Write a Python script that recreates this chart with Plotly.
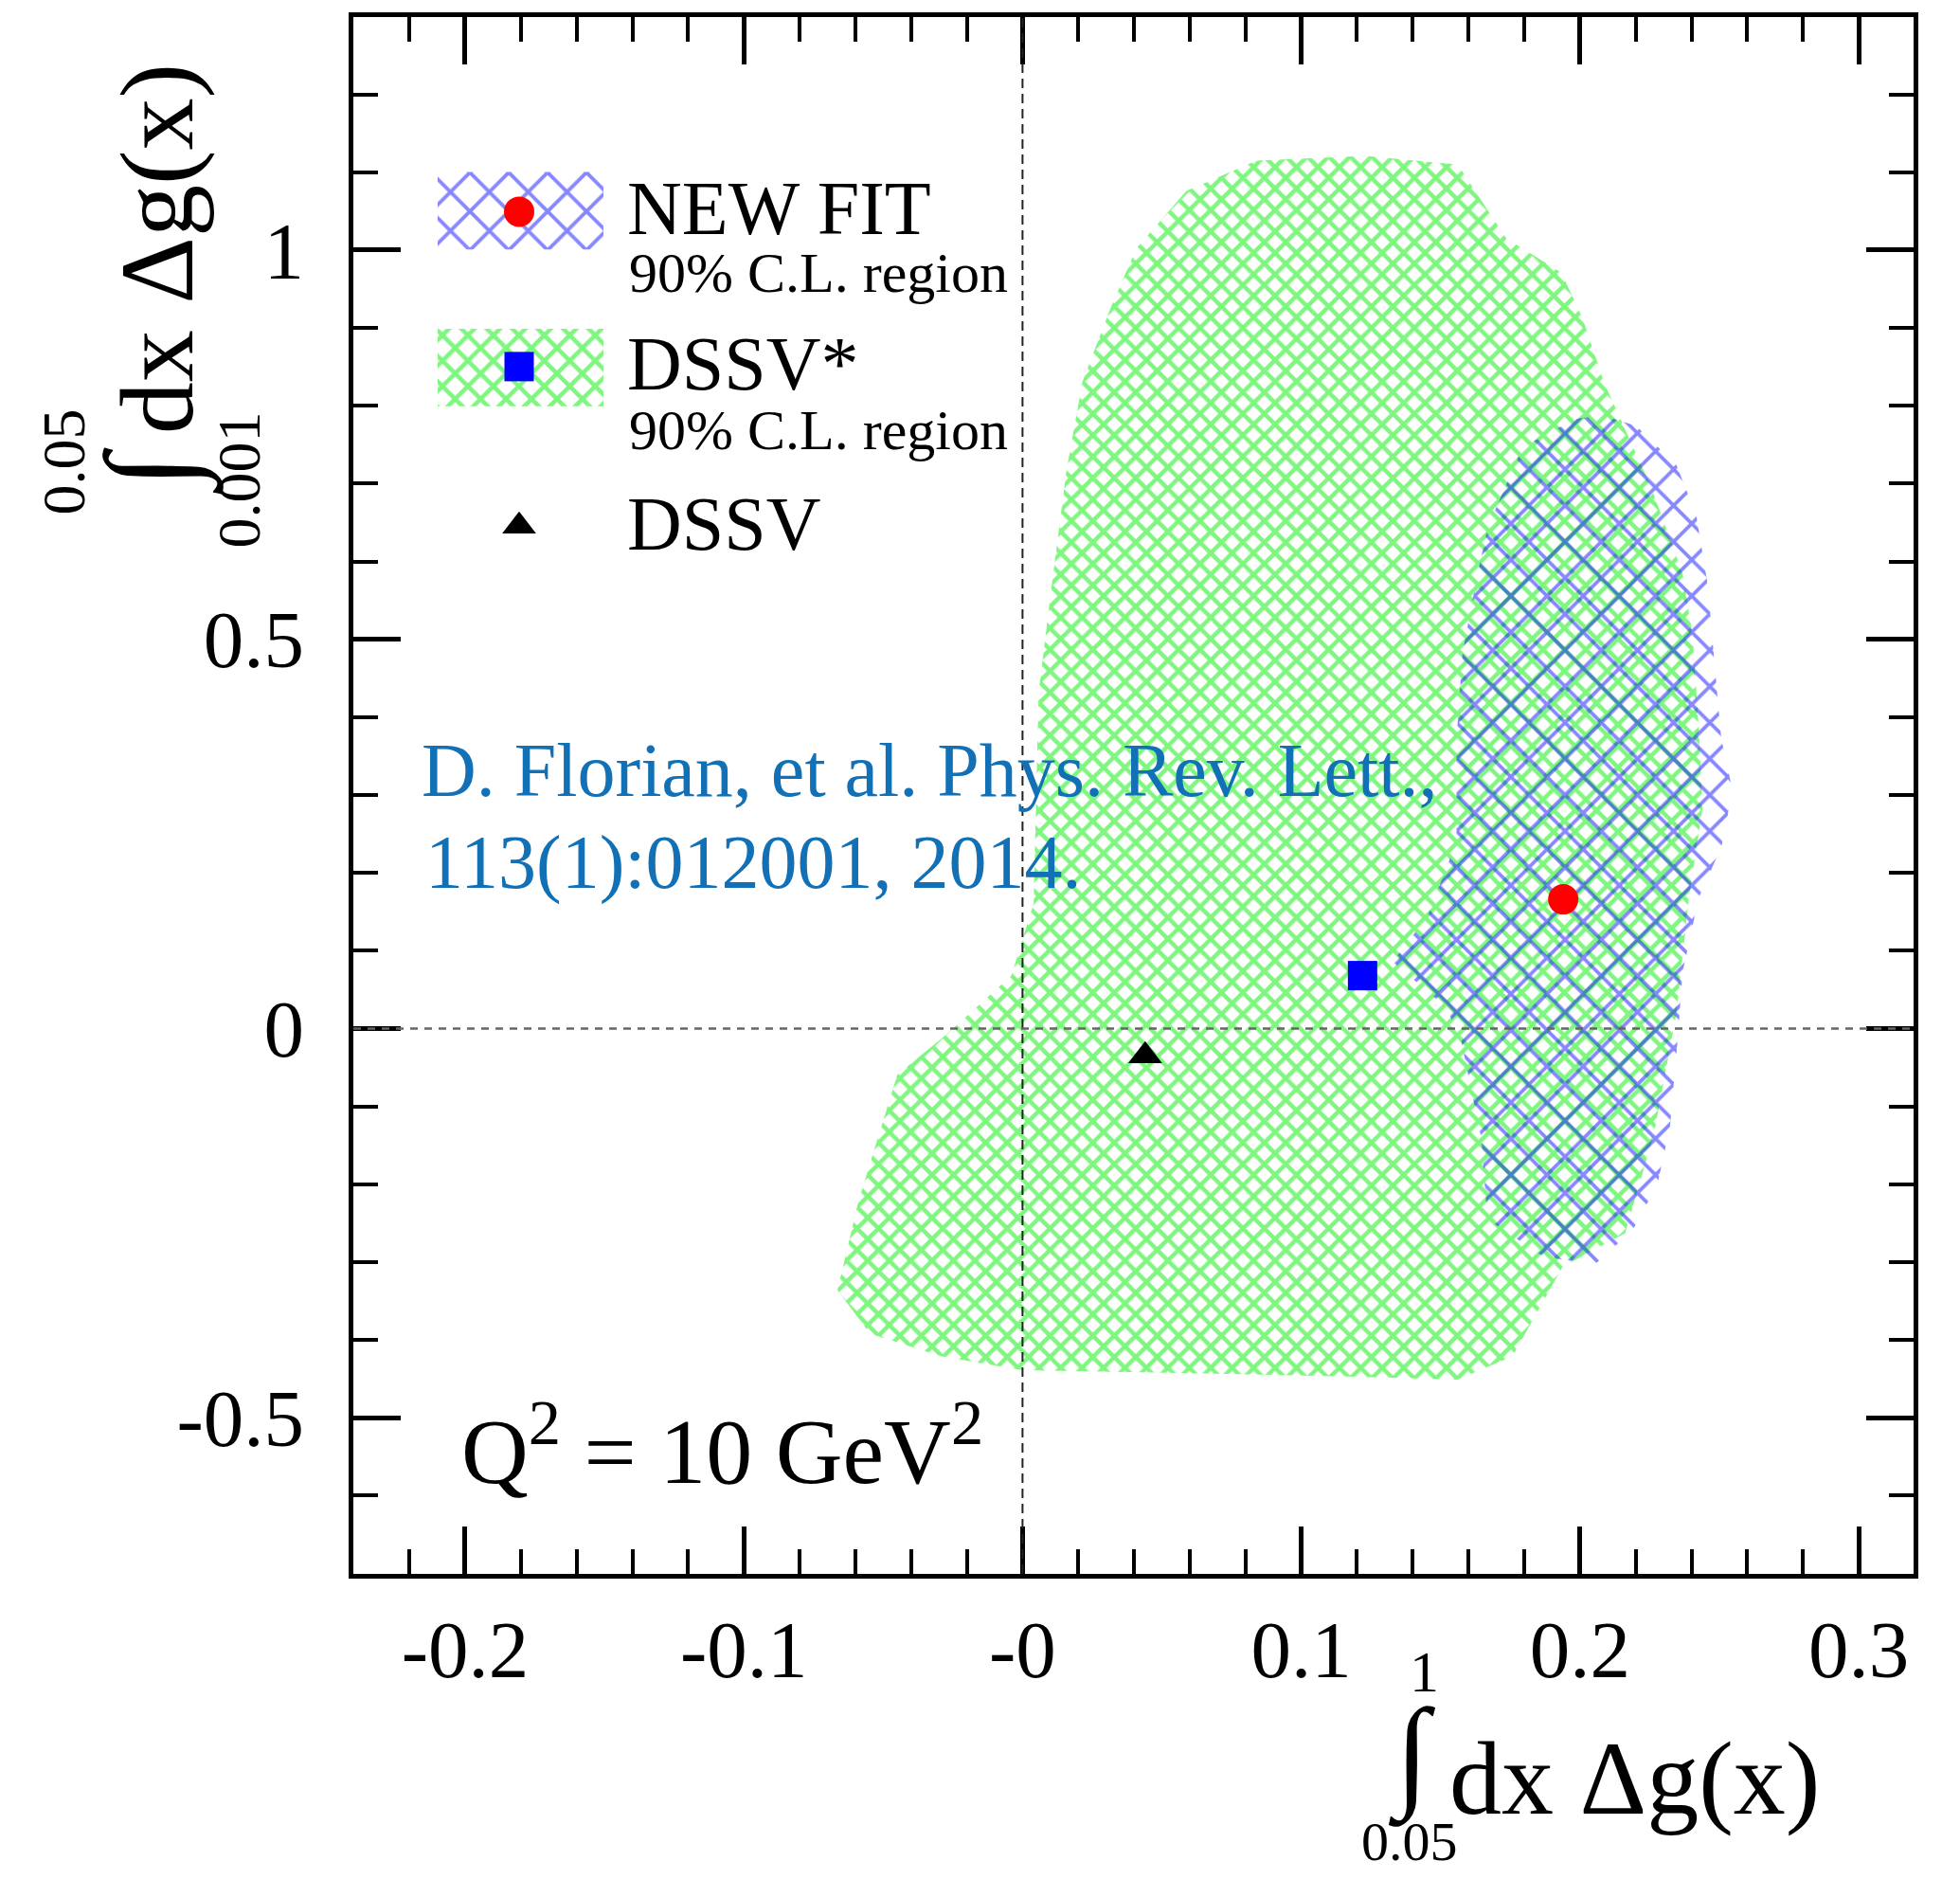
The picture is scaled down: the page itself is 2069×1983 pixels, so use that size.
import numpy as np
import plotly.graph_objects as go

# ---------------- data ----------------
# DSSV* 90% C.L. region outline
dssv_star_region_x = [0.1229, 0.1561, 0.1736, 0.1933, 0.2009, 0.2086, 0.2256, 0.2368, 0.2404,
                      0.2426, 0.2440, 0.2391, 0.2346, 0.2265, 0.2162, 0.1938, 0.1758, 0.1561,
                      0.1171, 0.0781, 0.0000, -0.0292, -0.0547, -0.0664, -0.0588, -0.0449,
                      -0.0274, -0.0040, 0.0040, 0.0058, 0.0099, 0.0157, 0.0215, 0.0314, 0.0408,
                      0.0588, 0.0839]
dssv_star_region_y = [1.121, 1.110, 1.015, 0.971, 0.913, 0.830, 0.695, 0.585, 0.505,
                      0.387, 0.284, 0.168, 0.020, -0.136, -0.263, -0.306, -0.421, -0.451,
                      -0.447, -0.444, -0.439, -0.421, -0.392, -0.336, -0.221, -0.059,
                      -0.008, 0.068, 0.161, 0.432, 0.553, 0.715, 0.831, 0.924, 1.002,
                      1.076, 1.115]

# NEW FIT 90% C.L. region outline
new_fit_region_x = [0.1982, 0.2077, 0.2202, 0.2346, 0.2417, 0.2458, 0.2485, 0.2507, 0.2543,
                    0.2529, 0.2507, 0.2426, 0.2368, 0.2350, 0.2323, 0.2278, 0.2189, 0.2054,
                    0.1870, 0.1668, 0.1646, 0.1574, 0.1520, 0.1328, 0.1453, 0.1557, 0.1557,
                    0.1579, 0.1633, 0.1669, 0.1794]
new_fit_region_y = [0.783, 0.788, 0.774, 0.724, 0.660, 0.571, 0.460, 0.372, 0.313,
                    0.270, 0.233, 0.168, 0.072, -0.016, -0.126, -0.200, -0.259, -0.303,
                    -0.293, -0.245, -0.141, -0.016, 0.027, 0.086, 0.144, 0.240, 0.372,
                    0.483, 0.585, 0.644, 0.747]

# best-fit points
new_fit_x, new_fit_y = [0.194], [0.166]
dssv_star_x, dssv_star_y = [0.122], [0.068]
dssv_x, dssv_y = [0.044], [-0.035]

x_tickvals = [-0.2, -0.1, 0.0, 0.1, 0.2, 0.3]
x_ticktext = ["-0.2", "-0.1", "-0", "0.1", "0.2", "0.3"]
y_tickvals = [-0.5, 0.0, 0.5, 1.0]
y_ticktext = ["-0.5", "0", "0.5", "1"]

# ---------------- layout geometry ----------------
W, H = 2069, 1983
BODY = 8                      # default browser body margin
L, R, T, B = 373, 2020, 13, 1661   # plot-area edges in page pixels
FW, FH = W - 2 * BODY, H - 2 * BODY
FONT = "Liberation Serif"
GREEN = "#00ee00"
BLUE = "#1010ff"


def fx(px):
    return (px - L) / (R - L)


def fy(py):
    return (B - py) / (B - T)


fig = go.Figure()

# regions
fig.add_trace(go.Scatter(
    x=dssv_star_region_x + dssv_star_region_x[:1], y=dssv_star_region_y + dssv_star_region_y[:1],
    mode="lines", fill="toself", line=dict(width=0), fillcolor="rgba(0,0,0,0)",
    fillpattern=dict(shape="x", fgcolor=GREEN, bgcolor="rgba(0,0,0,0)", size=16, solidity=0.48),
    showlegend=False, hoverinfo="skip"))
fig.add_trace(go.Scatter(
    x=new_fit_region_x + new_fit_region_x[:1], y=new_fit_region_y + new_fit_region_y[:1],
    mode="lines", fill="toself", line=dict(width=0), fillcolor="rgba(0,0,0,0)",
    fillpattern=dict(shape="x", fgcolor=BLUE, bgcolor="rgba(0,0,0,0)", size=27, solidity=0.26),
    showlegend=False, hoverinfo="skip"))

# points
fig.add_trace(go.Scatter(x=new_fit_x, y=new_fit_y, mode="markers",
                         marker=dict(symbol="circle", size=32, color="#ff0000", line=dict(width=0)),
                         showlegend=False))
fig.add_trace(go.Scatter(x=dssv_star_x, y=dssv_star_y, mode="markers",
                         marker=dict(symbol="square", size=31, color="#0000ff", line=dict(width=0)),
                         showlegend=False))
fig.add_trace(go.Scatter(x=dssv_x, y=dssv_y, mode="markers",
                         marker=dict(symbol="triangle-up", size=31, color="#000000", line=dict(width=0)),
                         showlegend=False))

# ---------------- legend (overlay axes in pixel units) ----------------
def rect(x0, x1, y0, y1):
    return [x0, x1, x1, x0, x0], [y0, y0, y1, y1, y0]


bx, by = rect(462, 637, 177, 259)
gx, gy = rect(462, 637, 343, 425)
fig.add_trace(go.Scatter(x=bx, y=by, xaxis="x2", yaxis="y2", mode="lines", fill="toself",
                         line=dict(width=0), fillcolor="rgba(0,0,0,0)",
                         fillpattern=dict(shape="x", fgcolor=BLUE, bgcolor="rgba(0,0,0,0)", size=29, solidity=0.25),
                         showlegend=False, hoverinfo="skip"))
fig.add_trace(go.Scatter(x=gx, y=gy, xaxis="x2", yaxis="y2", mode="lines", fill="toself",
                         line=dict(width=0), fillcolor="rgba(0,0,0,0)",
                         fillpattern=dict(shape="x", fgcolor=GREEN, bgcolor="rgba(0,0,0,0)", size=19, solidity=0.42),
                         showlegend=False, hoverinfo="skip"))
fig.add_trace(go.Scatter(x=[548], y=[219], xaxis="x2", yaxis="y2", mode="markers",
                         marker=dict(symbol="circle", size=32, color="#ff0000"), showlegend=False))
fig.add_trace(go.Scatter(x=[548], y=[383], xaxis="x2", yaxis="y2", mode="markers",
                         marker=dict(symbol="square", size=31, color="#0000ff"), showlegend=False))
fig.add_trace(go.Scatter(x=[548], y=[552], xaxis="x2", yaxis="y2", mode="markers",
                         marker=dict(symbol="triangle-up", size=31, color="#000000"), showlegend=False))

# ---------------- annotations ----------------
ann = []


def text(s, px, py, size, xanchor="left", yanchor="middle", color="black", angle=0):
    ann.append(dict(text=s, x=fx(px), y=fy(py), xref="paper", yref="paper",
                    xanchor=xanchor, yanchor=yanchor, showarrow=False, textangle=angle,
                    font=dict(family=FONT, size=size, color=color)))


# legend texts
text("NEW FIT", 660, 216, 80)
text("90% C.L. region", 662, 284, 60)
text("DSSV*", 660, 380, 80)
text("90% C.L. region", 662, 450, 60)
text("DSSV", 660, 550, 80)

# citation
CITE = "#1170b6"
text("D. Florian, et al. Phys. Rev. Lett.,", 443, 810, 80, color=CITE)
text("113(1):012001, 2014.", 447, 908, 80, color=CITE)

# Q^2 label
text("Q<sup>2</sup> = 10 GeV<sup>2</sup>", 485, 1524, 98)

# x-axis title
text("dx Δg(x)", 1528, 1878, 110)
text("∫", 1490, 1853, 130, xanchor="center")
text("1", 1503, 1764, 62, xanchor="center")
text("0.05", 1488, 1944, 58, xanchor="center")

# y-axis title (rotated)
text("dx Δg(x)", 166, 258, 110, xanchor="center", angle=-90)
text("∫", 161, 494, 130, xanchor="center", angle=-90)
text("0.05", 68, 484, 64, xanchor="center", angle=-90)
text("0.001", 253, 503, 64, xanchor="center", angle=-90)

# ---------------- zero lines ----------------
shapes = [
    dict(type="line", xref="x", yref="paper", x0=0, x1=0, y0=0, y1=1,
         line=dict(color="#222222", width=2, dash="10px,6px"), layer="above"),
    dict(type="line", xref="paper", yref="y", x0=0, x1=1, y0=0, y1=0,
         line=dict(color="#666666", width=2.5, dash="8px,7px"), layer="above"),
]

axis_common = dict(showgrid=False, zeroline=False, showline=True, mirror="ticks",
                   linecolor="black", linewidth=5, ticks="inside", tickcolor="black",
                   tickfont=dict(family=FONT, size=85, color="black"))

fig.update_layout(
    width=FW, height=FH,
    margin=dict(l=L - BODY, r=FW - (R - BODY), t=T - BODY, b=FH - (B - BODY), pad=0),
    paper_bgcolor="white", plot_bgcolor="white",
    showlegend=False,
    xaxis=dict(range=[-0.2401, 0.3197], tickmode="array", tickvals=x_tickvals, ticktext=x_ticktext,
               ticklen=50, tickwidth=4.5, ticklabelstandoff=2,
               minor=dict(tickmode="array", tickvals=list(np.round(np.arange(-0.24, 0.32, 0.02), 3)),
                          ticks="inside", ticklen=26, tickwidth=4, tickcolor="black"),
               **axis_common),
    yaxis=dict(range=[-0.7006, 1.2994], tickmode="array", tickvals=y_tickvals, ticktext=y_ticktext,
               ticklen=50, tickwidth=4.5, ticklabelstandoff=30,
               minor=dict(tickmode="array", tickvals=list(np.round(np.arange(-0.7, 1.31, 0.1), 3)),
                          ticks="inside", ticklen=26, tickwidth=4, tickcolor="black"),
               **axis_common),
    xaxis2=dict(overlaying="x", anchor="y2", range=[L, R], visible=False),
    yaxis2=dict(overlaying="y", anchor="x2", range=[B, T], visible=False),
    annotations=ann,
    shapes=shapes,
)

fig.write_html("out.html")
